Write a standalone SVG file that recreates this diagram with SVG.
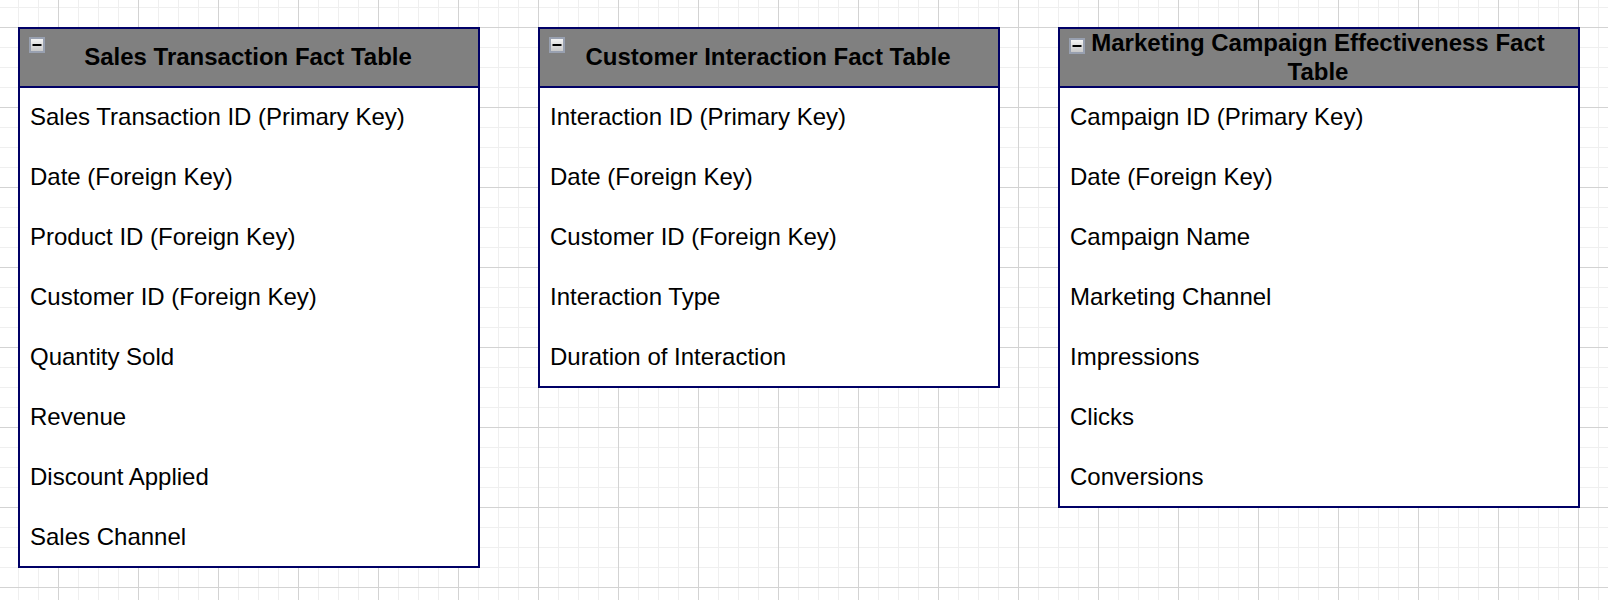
<svg xmlns="http://www.w3.org/2000/svg" width="1608" height="600" viewBox="0 0 1608 600">
  <style>
    .box { fill: #ffffff; stroke: #000066; stroke-width: 2; }
    .head { fill: #808080; stroke: #000066; stroke-width: 2; }
    .title { font-family: "Liberation Sans", Arial, sans-serif; font-size: 24px; font-weight: bold; fill: #000000; text-anchor: middle; }
    .row { font-family: "Liberation Sans", Arial, sans-serif; font-size: 24px; fill: #000000; }
    .icon { fill: url(#iconGrad); stroke: #98a0b0; stroke-width: 2; }
  </style>
  <defs>
    <pattern id="minor" patternUnits="userSpaceOnUse" x="18" y="7" width="20" height="20">
      <path d="M0.5 0V20M0 0.5H20" fill="none" stroke="#efefef" stroke-width="1"/>
    </pattern>
    <pattern id="major" patternUnits="userSpaceOnUse" x="58" y="27" width="80" height="80">
      <path d="M0.5 0V80M0 0.5H80" fill="none" stroke="#d3d3d3" stroke-width="1"/>
    </pattern>
    <linearGradient id="iconGrad" x1="0" y1="0" x2="0" y2="1">
      <stop offset="0" stop-color="#f8f8f8"/>
      <stop offset="1" stop-color="#c4c4c4"/>
    </linearGradient>
    <symbol id="collapse" viewBox="0 0 16 16" width="16" height="16">
      <rect class="icon" x="1" y="1" width="14" height="14"/>
      <rect x="3.5" y="7" width="9" height="2" fill="#000000"/>
    </symbol>
  </defs>
  <rect width="1608" height="600" fill="#ffffff"/>
  <rect width="1608" height="600" fill="url(#minor)"/>
  <rect width="1608" height="600" fill="url(#major)"/>

  <g id="connectors"></g>

  <g id="sales-transaction">
    <rect class="box" x="19" y="28" width="460" height="539"/>
    <rect class="head" x="19" y="28" width="460" height="59"/>
    <use href="#collapse" x="29" y="37"/>
    <text class="title" x="248" y="65">Sales Transaction Fact Table</text>
    <text class="row" x="30" y="124.5">Sales Transaction ID (Primary Key)</text>
    <text class="row" x="30" y="184.5">Date (Foreign Key)</text>
    <text class="row" x="30" y="244.5">Product ID (Foreign Key)</text>
    <text class="row" x="30" y="304.5">Customer ID (Foreign Key)</text>
    <text class="row" x="30" y="364.5">Quantity Sold</text>
    <text class="row" x="30" y="424.5">Revenue</text>
    <text class="row" x="30" y="484.5">Discount Applied</text>
    <text class="row" x="30" y="544.5">Sales Channel</text>
  </g>

  <g id="customer-interaction">
    <rect class="box" x="539" y="28" width="460" height="359"/>
    <rect class="head" x="539" y="28" width="460" height="59"/>
    <use href="#collapse" x="549" y="37"/>
    <text class="title" x="768" y="65">Customer Interaction Fact Table</text>
    <text class="row" x="550" y="124.5">Interaction ID (Primary Key)</text>
    <text class="row" x="550" y="184.5">Date (Foreign Key)</text>
    <text class="row" x="550" y="244.5">Customer ID (Foreign Key)</text>
    <text class="row" x="550" y="304.5">Interaction Type</text>
    <text class="row" x="550" y="364.5">Duration of Interaction</text>
  </g>

  <g id="marketing-campaign">
    <rect class="box" x="1059" y="28" width="520" height="479"/>
    <rect class="head" x="1059" y="28" width="520" height="59"/>
    <use href="#collapse" x="1069" y="38"/>
    <text class="title" x="1318" y="50.5">Marketing Campaign Effectiveness Fact</text>
    <text class="title" x="1318" y="79.5">Table</text>
    <text class="row" x="1070" y="124.5">Campaign ID (Primary Key)</text>
    <text class="row" x="1070" y="184.5">Date (Foreign Key)</text>
    <text class="row" x="1070" y="244.5">Campaign Name</text>
    <text class="row" x="1070" y="304.5">Marketing Channel</text>
    <text class="row" x="1070" y="364.5">Impressions</text>
    <text class="row" x="1070" y="424.5">Clicks</text>
    <text class="row" x="1070" y="484.5">Conversions</text>
  </g>
</svg>
